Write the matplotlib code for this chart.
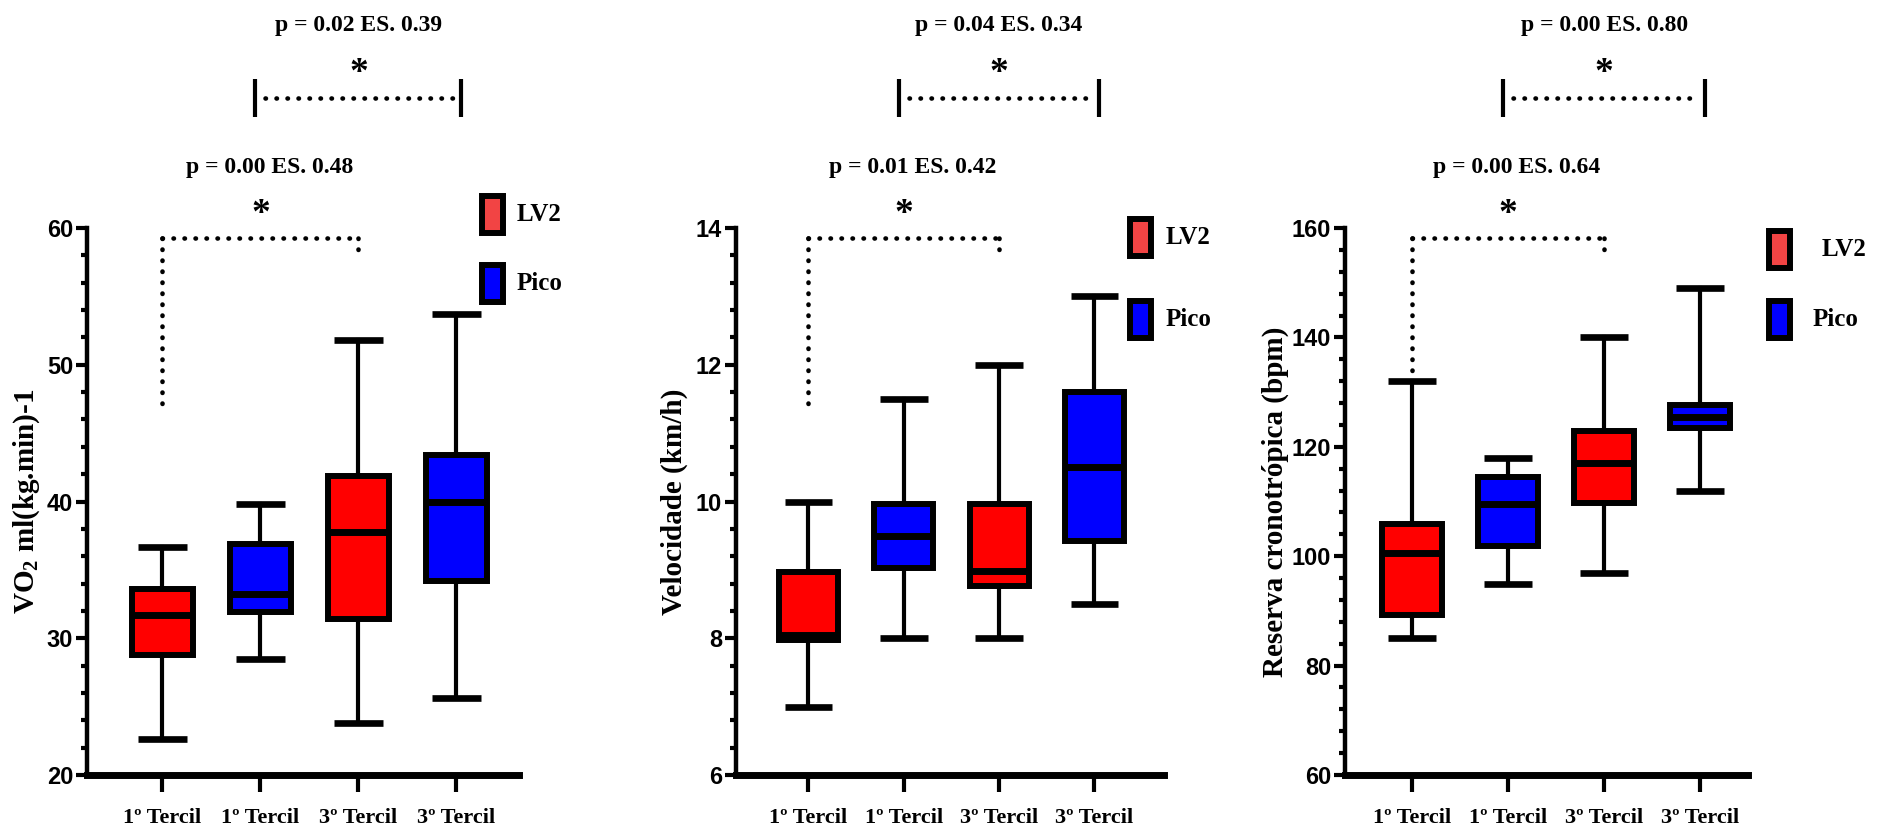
import matplotlib
matplotlib.use('Agg')
import matplotlib.pyplot as plt
import matplotlib.transforms as mtransforms
from matplotlib.patches import Rectangle
from matplotlib.ticker import MultipleLocator

plt.rcParams['font.family'] = ['Liberation Serif', 'DejaVu Serif']
plt.rcParams['font.weight'] = 'bold'
plt.rcParams['mathtext.default'] = 'regular'

# boxes, left to right
groups = ['1º Tercil', '1º Tercil', '3º Tercil', '3º Tercil']
series = ['LV2', 'Pico', 'LV2', 'Pico']
box_colors = {'LV2': '#FF0000', 'Pico': '#0000FF'}
key_colors = {'LV2': '#F24444', 'Pico': '#0000FF'}

# VO2 ml(kg.min)-1 : whisker low, Q1, median, Q3, whisker high
vo2_lo = [22.6, 28.5, 23.8, 25.6]
vo2_q1 = [28.8, 31.9, 31.4, 34.2]
vo2_med = [31.7, 33.2, 37.8, 40.0]
vo2_q3 = [33.6, 36.9, 41.9, 43.4]
vo2_hi = [36.7, 39.8, 51.8, 53.7]

# Velocidade (km/h)
vel_lo = [7.0, 8.0, 8.0, 8.5]
vel_q1 = [7.97, 9.03, 8.76, 9.42]
vel_med = [8.05, 9.5, 8.98, 10.5]
vel_q3 = [8.97, 9.97, 9.96, 11.6]
vel_hi = [10.0, 11.5, 12.0, 13.0]

# Reserva cronotropica (bpm)
res_lo = [85.0, 95.0, 97.0, 112.0]
res_q1 = [89.3, 101.8, 109.8, 123.5]
res_med = [100.5, 109.5, 117.0, 125.5]
res_q3 = [105.8, 114.5, 122.9, 127.6]
res_hi = [132.0, 118.0, 140.0, 149.0]

ylabels = ['VO$_2$ ml(kg.min)-1', 'Velocidade (km/h)', 'Reserva cronotrópica (bpm)']
ylims = [(20, 60), (6, 14), (60, 160)]
ymajor = [10, 2, 20]
yminor = [2, 0.4, 4]

# comparisons: 1º Tercil LV2 vs 3º Tercil LV2, 1º Tercil Pico vs 3º Tercil Pico
p_low = ['p = 0.00 ES. 0.48', 'p = 0.01 ES. 0.42', 'p = 0.00 ES. 0.64']
p_high = ['p = 0.02 ES. 0.39', 'p = 0.04 ES. 0.34', 'p = 0.00 ES. 0.80']

FIG_W, FIG_H = 1886, 838
fig = plt.figure(figsize=(FIG_W / 100, FIG_H / 100), dpi=100)
# pixel coords measured from the top-left corner
px = mtransforms.Affine2D().scale(1 / FIG_W, -1 / FIG_H).translate(0, 1) + fig.transFigure

ax_left = [87, 736, 1345]
ax_w = [432, 428, 403]
xlims = [(0.23, 4.64), (0.24, 4.73), (0.3, 4.5)]
ax_top, ax_bot = 228, 775

leg_left = [0.669, 0.667, 0.736]
ylab_x = [-0.105, -0.112, -0.14]
# key swatches: left edge and top edge of each black frame, label x
key_x = [479, 1127, 1766]
key_y = [(193, 262), (216, 298), (228, 298)]
key_tx = [(517, 517), (1166, 1166), (1822, 1813)]


def draw_panel(ax, k, lo, q1, med, q3, hi):
    stats = []
    for i in range(len(groups)):
        stats.append(dict(whislo=lo[i], q1=q1[i], med=med[i], q3=q3[i], whishi=hi[i], fliers=[]))
    bp = ax.bxp(stats, positions=range(1, len(groups) + 1), widths=0.62,
                patch_artist=True, showfliers=False, capwidths=0.5,
                boxprops=dict(edgecolor='black', linewidth=4.3),
                medianprops=dict(color='black', linewidth=5, solid_capstyle='butt'),
                whiskerprops=dict(color='black', linewidth=3),
                capprops=dict(color='black', linewidth=4.8, solid_capstyle='butt'))
    for patch, s in zip(bp['boxes'], series):
        patch.set_facecolor(box_colors[s])

    ax.set_xlim(*xlims[k])
    ax.set_ylim(*ylims[k])
    ax.yaxis.set_major_locator(MultipleLocator(ymajor[k]))
    ax.yaxis.set_minor_locator(MultipleLocator(yminor[k]))
    ax.set_xticks(range(1, len(groups) + 1))
    ax.set_xticklabels(groups, fontsize=16, fontweight='bold')
    ax.tick_params(axis='x', length=12, width=3, pad=12)
    ax.tick_params(axis='y', which='major', length=8, width=3, pad=2)
    ax.tick_params(axis='y', which='minor', length=4, width=3)
    for lbl in ax.get_yticklabels():
        lbl.set_fontfamily(['Liberation Sans Narrow', 'Liberation Sans'])
        lbl.set_fontsize(17)
        lbl.set_fontweight('bold')
    for side in ['top', 'right']:
        ax.spines[side].set_visible(False)
    ax.spines['left'].set_linewidth(3.2)
    ax.spines['bottom'].set_linewidth(5)

    ax.set_ylabel(ylabels[k], fontsize=21, fontweight='bold')
    ax.yaxis.set_label_coords(ylab_x[k], 0.5)

    # significance brackets above the boxes
    tr = mtransforms.blended_transform_factory(ax.transData, ax.transAxes)
    dots = dict(color='black', lw=3.3, linestyle=(0, (0.1, 2.3)),
                dash_capstyle='round', transform=tr, clip_on=False)
    ax.plot([1, 3], [0.982, 0.982], **dots)
    ax.plot([1, 1], [0.982, leg_left[k]], **dots)
    ax.plot([3, 3], [0.982, 0.945], **dots)
    ax.text(2.0, 1.025, '*', fontsize=27, ha='center', va='center', transform=tr)
    ax.text(2.09, 1.11, p_low[k], fontsize=17, ha='center', va='center', transform=tr)

    for xb in (1.95, 4.05):
        ax.plot([xb, xb], [1.203, 1.272], color='black', lw=3, transform=tr,
                clip_on=False, solid_capstyle='butt')
    ax.plot([2.05, 3.97], [1.238, 1.238], **dots)
    ax.text(3.0, 1.282, '*', fontsize=27, ha='center', va='center', transform=tr)
    ax.text(3.0, 1.37, p_high[k], fontsize=17, ha='center', va='center', transform=tr)

    # hand-placed key: black-framed swatches with labels
    for j, s in enumerate(['LV2', 'Pico']):
        y0 = key_y[k][j]
        fig.patches.append(Rectangle((key_x[k] + 3, y0 + 3), 21, 37, transform=px,
                                     facecolor=key_colors[s], edgecolor='black', lw=4.3))
        fig.text(key_tx[k][j], y0 + 21, s, fontsize=18, ha='left', va='center',
                 transform=px)


data = [(vo2_lo, vo2_q1, vo2_med, vo2_q3, vo2_hi),
        (vel_lo, vel_q1, vel_med, vel_q3, vel_hi),
        (res_lo, res_q1, res_med, res_q3, res_hi)]

for k in range(3):
    ax = fig.add_axes([ax_left[k] / FIG_W, 1 - ax_bot / FIG_H,
                       ax_w[k] / FIG_W, (ax_bot - ax_top) / FIG_H])
    draw_panel(ax, k, *data[k])

fig.savefig('out.png', dpi=100)
